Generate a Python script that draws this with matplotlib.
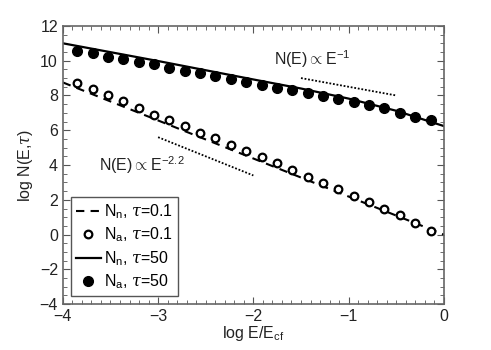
import numpy as np
import matplotlib
matplotlib.use('Agg')
import matplotlib.pyplot as plt
from matplotlib.ticker import MultipleLocator

plt.rcParams['font.family'] = ['Liberation Sans', 'DejaVu Sans']
plt.rcParams['mathtext.fontset'] = 'custom'
plt.rcParams['mathtext.rm'] = 'Liberation Sans'
plt.rcParams['mathtext.it'] = 'DejaVu Serif:italic'

# marker positions (log E/Ecf)
x_pts = np.linspace(-3.85, -0.14, 24)

# N_a, tau=50 (filled)
na_50 = [10.56, 10.43, 10.23, 10.12, 9.94, 9.79, 9.60, 9.43, 9.30, 9.11, 8.95, 8.79,
         8.62, 8.45, 8.30, 8.13, 7.97, 7.80, 7.63, 7.44, 7.26, 7.01, 6.78, 6.57]
# N_a, tau=0.1 (open)
na_01 = [8.70, 8.36, 8.01, 7.68, 7.26, 6.88, 6.59, 6.23, 5.86, 5.57, 5.17, 4.82,
         4.44, 4.10, 3.71, 3.33, 2.98, 2.60, 2.23, 1.85, 1.47, 1.10, 0.68, 0.20]

# N_n curves
nn_50_x = [-4.0, -3.0, -2.0, -1.5, -1.0, -0.5, 0.0]
nn_50_y = [11.0, 9.98, 8.92, 8.40, 7.82, 7.12, 6.24]
nn_01_x = [-4.0, 0.0]
nn_01_y = [8.75, 0.0]

# power-law guides
guide1_x, guide1_y = [-1.5, -0.5], [9.0, 8.0]
guide2_x, guide2_y = [-3.0, -2.0], [5.6, 3.4]

txt = '#222222'

fig = plt.figure(figsize=(4.91, 3.5), dpi=100)
ax = fig.add_axes([0.128, 0.131, 0.776, 0.795])

ax.plot(nn_01_x, nn_01_y, color='black', lw=1.5, ls=(0, (4, 3)),
        label=r'N$_\mathrm{n}$, $\mathit{\tau}$=0.1')
ax.plot(x_pts, na_01, 'o', ms=5.5, mfc='white', mec='black', mew=1.6,
        label=r'N$_\mathrm{a}$, $\mathit{\tau}$=0.1')
ax.plot(nn_50_x, nn_50_y, color='black', lw=1.6,
        label=r'N$_\mathrm{n}$, $\mathit{\tau}$=50')
ax.plot(x_pts, na_50, 'o', ms=7, color='black',
        label=r'N$_\mathrm{a}$, $\mathit{\tau}$=50')

ax.plot(guide1_x, guide1_y, color='black', lw=1.3, ls=(0, (1, 1)))
ax.plot(guide2_x, guide2_y, color='black', lw=1.3, ls=(0, (1, 1)))
ax.text(-1.78, 10.1, r'N(E)$\propto$E$^{-1}$', fontsize=11.5, va='center', color=txt)
ax.text(-3.62, 4.0, r'N(E)$\propto$E$^{-2.2}$', fontsize=11.5, va='center', color=txt)

ax.set_xlim(-4, 0)
ax.set_ylim(-4, 12)
ax.xaxis.set_major_locator(MultipleLocator(1))
ax.xaxis.set_minor_locator(MultipleLocator(0.1))
ax.yaxis.set_major_locator(MultipleLocator(2))
ax.yaxis.set_minor_locator(MultipleLocator(0.5))
ax.tick_params(which='both', direction='in', top=True, right=True, colors='#555555',
               labelcolor=txt, labelsize=11.5)
ax.tick_params(which='major', length=5)
ax.tick_params(which='minor', length=3)
for s in ax.spines.values():
    s.set_color('#666666')
    s.set_linewidth(1.2)

ax.set_xlabel(r'log E/E$_\mathrm{cf}$', fontsize=11.5, color=txt, labelpad=0)
ax.set_ylabel(r'log N(E,$\mathit{\tau}$)', fontsize=11.5, color=txt, labelpad=3)

leg = ax.legend(loc='lower left', fontsize=11.5, handlelength=1.6, handletextpad=0.2,
                labelspacing=0.3, borderpad=0.3, fancybox=False, framealpha=1,
                borderaxespad=0.5)
leg.get_frame().set_edgecolor('#555555')
leg.get_frame().set_linewidth(1.0)

fig.savefig('out.png', dpi=100)
